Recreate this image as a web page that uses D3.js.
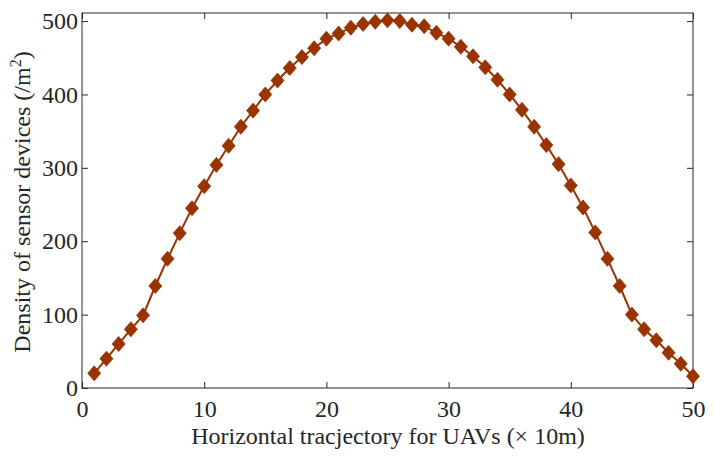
<!DOCTYPE html>
<html>
<head>
<meta charset="utf-8">
<script src="https://cdn.jsdelivr.net/npm/d3@7"></script>
<style>
  body { margin: 0; background: #fff; }
  text { font-family: "Liberation Serif", "Times New Roman", serif; fill: #262626; }
</style>
</head>
<body>
<svg id="chart" width="715" height="457"></svg>
<script>
// trajectory position (x 10m) and sensor density
const positions = d3.range(1, 51);
const density = [
  20, 40, 60, 80, 99, 139, 176, 211, 245, 275,
  304, 330, 356, 378, 400, 419, 436, 451, 463, 476,
  483, 491, 496, 499, 501, 500, 495, 493, 484, 476,
  465, 452, 437, 420, 400, 379, 356, 331, 305, 276,
  246, 212, 176, 139, 100, 80, 65, 48, 33, 16
];
const xTicks = [0, 10, 20, 30, 40, 50];
const yTicks = [0, 100, 200, 300, 400, 500];

const W = 715, H = 457;
const margin = {top: 13, right: 22, bottom: 69, left: 82};
const svg = d3.select('#chart');
const color = '#993300';
const axisColor = '#262626';
const fs = '24px';

const x = d3.scaleLinear().domain([0, 50]).range([margin.left, W - margin.right]);
const y = d3.scaleLinear().domain([0, 511]).range([H - margin.bottom, margin.top]);

// frame
svg.append('rect')
  .attr('x', x(0)).attr('y', y(511))
  .attr('width', x(50) - x(0)).attr('height', y(0) - y(511))
  .attr('fill', 'none').attr('stroke', axisColor).attr('stroke-width', 1);

// ticks, drawn inward on all four sides
const tickLen = 6;
let g = svg.append('g').attr('transform', `translate(0,${y(0)})`)
  .call(d3.axisBottom(x).tickValues(xTicks).tickSizeInner(-tickLen).tickSizeOuter(0).tickPadding(12));
g.select('.domain').remove();
g.selectAll('line').attr('stroke', axisColor);
g.selectAll('text').style('font-size', fs).attr('fill', axisColor);

g = svg.append('g').attr('transform', `translate(0,${y(511)})`)
  .call(d3.axisTop(x).tickValues(xTicks).tickSizeInner(-tickLen).tickSizeOuter(0).tickFormat(''));
g.select('.domain').remove();
g.selectAll('line').attr('stroke', axisColor);

g = svg.append('g').attr('transform', `translate(${x(0)},0)`)
  .call(d3.axisLeft(y).tickValues(yTicks).tickSizeInner(-tickLen).tickSizeOuter(0).tickPadding(4));
g.select('.domain').remove();
g.selectAll('line').attr('stroke', axisColor);
g.selectAll('text').style('font-size', fs).attr('fill', axisColor);

g = svg.append('g').attr('transform', `translate(${x(50)},0)`)
  .call(d3.axisRight(y).tickValues(yTicks).tickSizeInner(-tickLen).tickSizeOuter(0).tickFormat(''));
g.select('.domain').remove();
g.selectAll('line').attr('stroke', axisColor);

// line + diamond markers
const pts = positions.map((p, i) => [p, density[i]]);
svg.append('path')
  .datum(pts)
  .attr('fill', 'none')
  .attr('stroke', color)
  .attr('stroke-width', 2)
  .attr('d', d3.line().x(d => x(d[0])).y(d => y(d[1])));

svg.append('g').selectAll('path')
  .data(pts)
  .join('path')
  .attr('transform', d => `translate(${x(d[0])},${y(d[1])})`)
  .attr('d', 'M0,-7.5L6.5,0L0,7.5L-6.5,0Z')
  .attr('fill', color)
  .attr('stroke', color)
  .attr('stroke-width', 0.8);

// axis labels
svg.append('text')
  .attr('x', 388)
  .attr('y', 444)
  .attr('text-anchor', 'middle')
  .style('font-size', fs)
  .text('Horizontal tracjectory for UAVs (\u00d7 10m)');

const yl = svg.append('text')
  .attr('transform', `translate(30,202) rotate(-90)`)
  .attr('text-anchor', 'middle')
  .style('font-size', fs);
yl.append('tspan').text('Density of sensor devices (/m');
yl.append('tspan').attr('dy', -9).style('font-size', '16px').text('2');
yl.append('tspan').attr('dy', 9).text(')');
</script>
</body>
</html>
